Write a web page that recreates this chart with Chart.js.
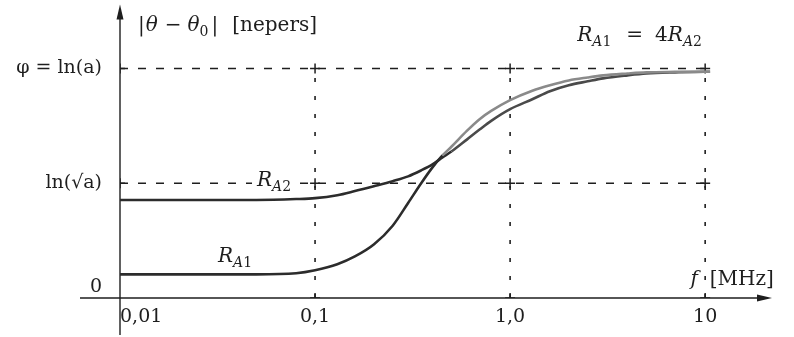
<!DOCTYPE html>
<html>
<head>
<meta charset="utf-8">
<script src="https://cdn.jsdelivr.net/npm/chart.js@4/dist/chart.umd.min.js"></script>
<style>
  html, body { margin: 0; padding: 0; background: #fff; }
  #wrap { width: 794px; height: 337px; }
</style>
</head>
<body>
<div id="wrap"><canvas id="c" width="794" height="337"></canvas></div>
<script>
// Frequency samples in MHz (log axis)
const freqMHz = [0.01, 0.02, 0.05, 0.08, 0.1, 0.13, 0.16, 0.2, 0.25, 0.3, 0.35, 0.4, 0.45, 0.5,
                 0.6, 0.7, 0.8, 1.0, 1.3, 1.6, 2, 2.5, 3, 4, 5, 7, 10, 10.6];
// |θ − θ0| in units of ln(a) for the two source resistances (R_A1 = 4 R_A2)
const thetaRA1 = [0.103, 0.103, 0.103, 0.108, 0.121, 0.147, 0.181, 0.233, 0.315, 0.414, 0.500, 0.569, 0.621, 0.659,
                  0.728, 0.780, 0.815, 0.862, 0.903, 0.927, 0.948, 0.961, 0.970, 0.978, 0.983, 0.985, 0.986, 0.986];
const thetaRA2 = [0.427, 0.427, 0.427, 0.431, 0.435, 0.448, 0.466, 0.487, 0.509, 0.530, 0.556, 0.582, 0.612, 0.638,
                  0.690, 0.735, 0.772, 0.823, 0.866, 0.901, 0.927, 0.944, 0.957, 0.970, 0.978, 0.983, 0.986, 0.986];

// Reference levels: ln(√a) and φ = ln(a)
const levelValues = [0.5, 1];
// Decade markers drawn as dashed verticals
const decadeFreqs = [0.1, 1, 10];

// Axis ticks
const xTickValues = [0.01, 0.1, 1, 10];
const xTickLabels = ['0,01', '0,1', '1,0', '10'];
const yTickValues = [0, 0.5, 1];
const yTickLabels = [['0', ''], 'ln(√a)', 'φ = ln(a)'];

// Axis ranges (arrow tips sit at the maxima)
const xRange = [0.01, 21.5];
const yRange = [0, 1.27];

const SERIF = '"DejaVu Serif", "Liberation Serif", serif';
const INK = '#1e1e1e';

const toPoints = (xs, ys) => xs.map((x, i) => ({ x, y: ys[i] }));

// Dashed guides built from the levels and decades
const guideSets = [];
levelValues.forEach(v => {
  guideSets.push({
    data: [{ x: xTickValues[0], y: v }, { x: decadeFreqs[decadeFreqs.length - 1], y: v }],
    showLine: true, borderColor: INK, borderWidth: 1.4, borderDash: [8, 10],
    pointRadius: 0, order: 5
  });
});
decadeFreqs.forEach(f => {
  guideSets.push({
    data: [{ x: f, y: yRange[0] }, { x: f, y: levelValues[levelValues.length - 1] }],
    showLine: true, borderColor: INK, borderWidth: 1.6, borderDash: [4, 14],
    pointRadius: 0, order: 5
  });
});

// Small crosses where the guides meet
const crossPoints = [];
[xTickValues[0], ...decadeFreqs].forEach(f => levelValues.forEach(v => crossPoints.push({ x: f, y: v })));
decadeFreqs.forEach(f => crossPoints.push({ x: f, y: 0 }));

// Rich text: italics and subscripts for the math labels
function drawRich(ctx, x, y, parts, size) {
  let cx = x;
  ctx.textBaseline = 'alphabetic';
  ctx.textAlign = 'left';
  for (const p of parts) {
    const fs = p.sub ? size * 0.7 : size;
    ctx.font = (p.it ? 'italic ' : '') + fs + 'px ' + SERIF;
    cx += p.gap || 0;
    ctx.fillText(p.t, cx, y + (p.sub ? size * 0.25 : 0));
    cx += ctx.measureText(p.t).width;
  }
  return cx;
}
function richWidth(ctx, parts, size) {
  let w = 0;
  for (const p of parts) {
    const fs = p.sub ? size * 0.7 : size;
    ctx.font = (p.it ? 'italic ' : '') + fs + 'px ' + SERIF;
    w += (p.gap || 0) + ctx.measureText(p.t).width;
  }
  return w;
}

const axesAndLabels = {
  id: 'axesAndLabels',
  beforeDatasetsDraw(chart) {
    const { ctx, scales: { x, y } } = chart;
    const x0 = x.getPixelForValue(xRange[0]);
    const y0 = y.getPixelForValue(0);
    const xEnd = x.getPixelForValue(xRange[1]);
    const yTop = y.getPixelForValue(yRange[1]);
    ctx.save();
    ctx.strokeStyle = INK;
    ctx.fillStyle = INK;
    ctx.lineWidth = 1.4;
    // vertical axis, running a little below the frequency axis
    ctx.beginPath();
    ctx.moveTo(x0, y0 + 37);
    ctx.lineTo(x0, yTop + 8);
    ctx.stroke();
    // horizontal axis, starting a little left of the vertical one
    ctx.beginPath();
    ctx.moveTo(x0 - 40, y0);
    ctx.lineTo(xEnd - 8, y0);
    ctx.stroke();
    // arrow heads
    ctx.beginPath();
    ctx.moveTo(x0, yTop - 2);
    ctx.lineTo(x0 - 3.5, yTop + 13);
    ctx.lineTo(x0 + 3.5, yTop + 13);
    ctx.closePath();
    ctx.fill();
    ctx.beginPath();
    ctx.moveTo(xEnd + 2, y0);
    ctx.lineTo(xEnd - 13, y0 - 3.5);
    ctx.lineTo(xEnd - 13, y0 + 3.5);
    ctx.closePath();
    ctx.fill();
    ctx.restore();
  },
  afterDatasetsDraw(chart) {
    const { ctx, scales: { x, y } } = chart;
    const S = 20;
    ctx.save();
    ctx.fillStyle = INK;

    // vertical axis title
    drawRich(ctx, x.getPixelForValue(0.01) + 18, y.getPixelForValue(1.165), [
      { t: '|' }, { t: 'θ', it: true, gap: 1 }, { t: '−', gap: 7 }, { t: 'θ', it: true, gap: 6 },
      { t: '0', sub: true }, { t: '|', gap: 3 }, { t: '[nepers]', gap: 14 }
    ], S);

    // resistance relation
    drawRich(ctx, x.getPixelForValue(2.21), y.getPixelForValue(1.12), [
      { t: 'R', it: true }, { t: 'A', it: true, sub: true }, { t: '1', sub: true },
      { t: '=', gap: 15 }, { t: '4', gap: 12 }, { t: 'R', it: true },
      { t: 'A', it: true, sub: true }, { t: '2', sub: true }
    ], S);

    // curve names
    const ra2 = [{ t: 'R', it: true }, { t: 'A', it: true, sub: true }, { t: '2', sub: true }];
    const ra2x = x.getPixelForValue(0.0504);
    const ra2y = y.getPixelForValue(0.49);
    const w2 = richWidth(ctx, ra2, S);
    ctx.fillStyle = '#fff';
    ctx.fillRect(ra2x - 5, y.getPixelForValue(0.5) - 4, w2 + 12, 8);
    ctx.fillStyle = INK;
    drawRich(ctx, ra2x, ra2y, ra2, S);

    drawRich(ctx, x.getPixelForValue(0.0318), y.getPixelForValue(0.155), [
      { t: 'R', it: true }, { t: 'A', it: true, sub: true }, { t: '1', sub: true }
    ], S);

    // frequency axis title
    drawRich(ctx, x.getPixelForValue(8.4), y.getPixelForValue(0.056), [
      { t: 'f', it: true }, { t: '[MHz]', gap: 12 }
    ], S);
    ctx.restore();
  }
};

new Chart(document.getElementById('c'), {
  type: 'scatter',
  data: {
    datasets: [
      {
        label: 'R_A1',
        data: toPoints(freqMHz, thetaRA1),
        showLine: true,
        borderColor: '#2c2c2c',
        borderWidth: 2.6,
        pointRadius: 0,
        cubicInterpolationMode: 'monotone',
        segment: { borderColor: c => (c.p0.parsed.x >= 0.45 ? '#8a8a8a' : undefined) },
        order: 1
      },
      {
        label: 'R_A2',
        data: toPoints(freqMHz, thetaRA2),
        showLine: true,
        borderColor: '#2c2c2c',
        borderWidth: 2.6,
        pointRadius: 0,
        cubicInterpolationMode: 'monotone',
        segment: { borderColor: c => (c.p0.parsed.x >= 0.5 ? '#4a4a4a' : undefined) },
        order: 2
      },
      ...guideSets,
      {
        label: 'marks',
        data: crossPoints,
        showLine: false,
        pointStyle: 'cross',
        pointRadius: 5,
        pointBorderColor: INK,
        pointBorderWidth: 1.5,
        borderColor: INK,
        borderWidth: 1.5,
        order: 4
      }
    ]
  },
  options: {
    responsive: false,
    animation: false,
    events: [],
    layout: { padding: { top: 5, right: 24, bottom: 0, left: 0 } },
    plugins: { legend: { display: false }, tooltip: { enabled: false }, title: { display: false } },
    elements: { line: { tension: 0 } },
    scales: {
      x: {
        type: 'logarithmic',
        min: xRange[0],
        max: xRange[1],
        grid: { display: false, drawTicks: false },
        border: { display: false },
        afterBuildTicks: s => { s.ticks = [...xTickValues, xRange[1]].map(v => ({ value: v })); },
        afterFit: s => { s.height = 39; s.paddingLeft = 0; s.paddingRight = 0; },
        ticks: {
          autoSkip: false,
          maxRotation: 0,
          align: 'inner',
          padding: 8,
          color: INK,
          font: { family: SERIF, size: 19 },
          callback: v => { const i = xTickValues.indexOf(v); return i >= 0 ? xTickLabels[i] : ''; }
        }
      },
      y: {
        type: 'linear',
        min: yRange[0],
        max: yRange[1],
        grid: { display: false, drawTicks: false },
        border: { display: false },
        afterBuildTicks: s => { s.ticks = [...yTickValues, yRange[1]].map(v => ({ value: v })); },
        afterFit: s => { s.width = 120; s.paddingTop = 0; s.paddingBottom = 0; },
        ticks: {
          autoSkip: false,
          padding: 18,
          color: INK,
          font: { family: SERIF, size: 19, lineHeight: 1.2 },
          callback: v => { const i = yTickValues.indexOf(v); return i >= 0 ? yTickLabels[i] : ''; }
        }
      }
    }
  },
  plugins: [axesAndLabels]
});
</script>
</body>
</html>
